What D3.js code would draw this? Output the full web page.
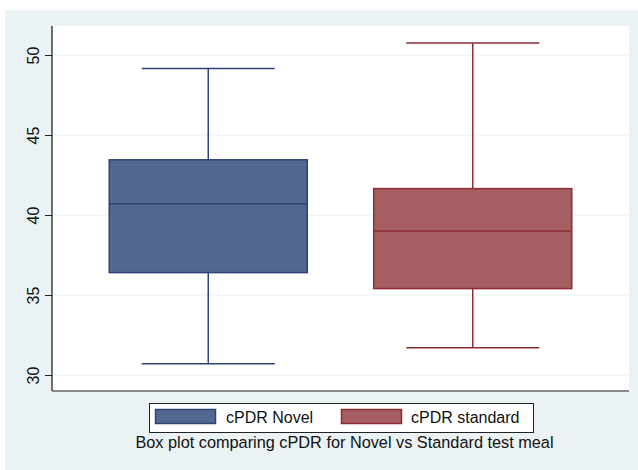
<!DOCTYPE html>
<html><head><meta charset="utf-8">
<script src="https://cdn.jsdelivr.net/npm/d3@7"></script>
<style>body{margin:0;background:#fff}svg{display:block}text{font-family:"Liberation Sans",Arial,Helvetica,sans-serif}</style>
</head><body>
<svg id="c" width="638" height="470"></svg>
<script>
const categories = ["cPDR Novel", "cPDR standard"];
const whiskerLow = [30.7, 31.7];
const q1 = [36.4, 35.4];
const median = [40.7, 39.0];
const q3 = [43.45, 41.65];
const whiskerHigh = [49.15, 50.75];
const yTicks = [30, 35, 40, 45, 50];
const fills = ["#536891", "#a55f62"];
const strokes = ["#2c4374", "#8d2c34"];
const caption = "Box plot comparing cPDR for Novel vs Standard test meal";

const svg = d3.select("#c");
svg.append("rect").attr("x",5).attr("y",10).attr("width",633).attr("height",460).attr("fill","#eaf2f3");
const L=52, R=629, T=26, B=391;
svg.append("rect").attr("x",L).attr("y",T).attr("width",R-L).attr("height",B-T).attr("fill","#fff");

const y = d3.scaleLinear().domain([30,50]).range([375,55]);
const x = d3.scaleBand().domain(categories).range([L,R]).paddingInner(0.2514).paddingOuter(0.2165);

// grid
svg.append("g").selectAll("line").data(yTicks).join("line")
  .attr("x1",L).attr("x2",R).attr("y1",d=>y(d)).attr("y2",d=>y(d))
  .attr("stroke","#e8f0f1").attr("stroke-width",1);

// boxes
const data = categories.map((c,i)=>({c,i,lo:whiskerLow[i],q1:q1[i],med:median[i],q3:q3[i],hi:whiskerHigh[i]}));
const g = svg.append("g");
data.forEach(d=>{
  const x0 = x(d.c), w = x.bandwidth(), cx = x0 + w/2, cap = w*0.672;
  const s = strokes[d.i];
  g.append("line").attr("x1",cx).attr("x2",cx).attr("y1",y(d.hi)).attr("y2",y(d.q3)).attr("stroke",s).attr("stroke-width",1.5);
  g.append("line").attr("x1",cx).attr("x2",cx).attr("y1",y(d.q1)).attr("y2",y(d.lo)).attr("stroke",s).attr("stroke-width",1.5);
  g.append("line").attr("x1",cx-cap/2).attr("x2",cx+cap/2).attr("y1",y(d.hi)).attr("y2",y(d.hi)).attr("stroke",s).attr("stroke-width",1.5);
  g.append("line").attr("x1",cx-cap/2).attr("x2",cx+cap/2).attr("y1",y(d.lo)).attr("y2",y(d.lo)).attr("stroke",s).attr("stroke-width",1.5);
  g.append("rect").attr("x",x0).attr("y",y(d.q3)).attr("width",w).attr("height",y(d.q1)-y(d.q3))
    .attr("fill",fills[d.i]).attr("stroke",s).attr("stroke-width",1.5);
  g.append("line").attr("x1",x0).attr("x2",x0+w).attr("y1",y(d.med)).attr("y2",y(d.med)).attr("stroke",s).attr("stroke-width",1.5);
});

// axes
const ax = svg.append("g").attr("transform",`translate(${L},0)`)
  .call(d3.axisLeft(y).tickValues(yTicks).tickSize(7).tickPadding(4).tickFormat(d3.format("d")));
ax.attr("font-size",16).attr("font-family",null);
ax.select(".domain").remove();
ax.selectAll(".tick line").attr("stroke","#222");
ax.selectAll(".tick text").attr("transform","rotate(-90)").attr("text-anchor","middle")
  .attr("x",0).attr("y",-13).attr("dy","0").attr("fill","#111");
svg.append("line").attr("x1",L).attr("x2",L).attr("y1",T).attr("y2",B).attr("stroke","#111").attr("stroke-width",1.2);
svg.append("line").attr("x1",L).attr("x2",R).attr("y1",B).attr("y2",B).attr("stroke","#666").attr("stroke-width",1.6);

// legend
const lg = svg.append("g");
lg.append("rect").attr("x",149.5).attr("y",403.5).attr("width",384).attr("height",29).attr("fill","#fff").attr("stroke","#222").attr("stroke-width",1);
const legX = [155, 341], legTX = [226, 411];
categories.forEach((c,i)=>{
  lg.append("rect").attr("x",legX[i]+0.5).attr("y",409.5).attr("width",60).attr("height",14).attr("fill",fills[i]).attr("stroke",strokes[i]).attr("stroke-width",1.5);
  lg.append("text").attr("x",legTX[i]).attr("y",423).text(c).style("font-size","16px").attr("fill","#111");
});
svg.append("text").attr("x",(L+R)/2+4).attr("y",448).attr("text-anchor","middle").text(caption).style("font-size","16.3px").attr("fill","#111");
</script>
</body></html>
